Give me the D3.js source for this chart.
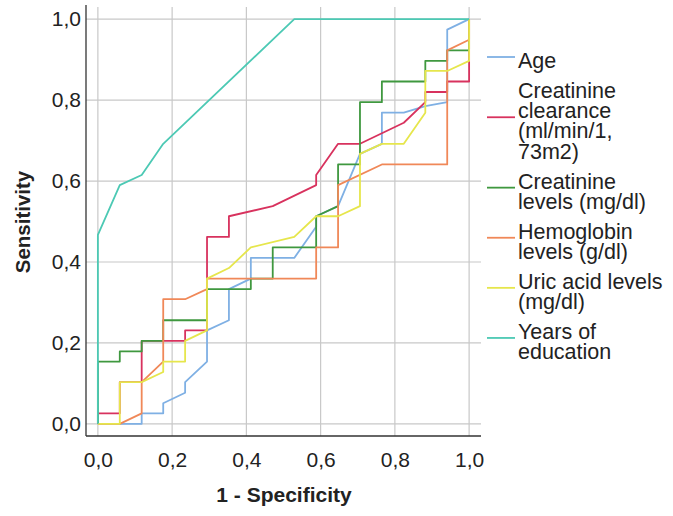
<!DOCTYPE html>
<html>
<head>
<meta charset="utf-8">
<script src="https://cdn.jsdelivr.net/npm/d3@7"></script>
<style>
  body { margin: 0; background: #fff; }
</style>
</head>
<body>
<div id="roc-chart"></div>
<script>
// ROC curves, points are [1 - specificity, sensitivity]
const seriesNames = ["Age", "Creatinine clearance (ml/min/1, 73m2)", "Creatinine levels (mg/dl)",
  "Hemoglobin levels (g/dl)", "Uric acid levels (mg/dl)", "Years of education"];

const legendLines = [
  ["Age"],
  ["Creatinine", "clearance", "(ml/min/1,", "73m2)"],
  ["Creatinine", "levels (mg/dl)"],
  ["Hemoglobin", "levels (g/dl)"],
  ["Uric acid levels", "(mg/dl)"],
  ["Years of", "education"]
];

const age = [[0,0],[0.118,0],[0.118,0.026],[0.176,0.026],[0.176,0.051],[0.235,0.077],[0.235,0.103],
  [0.294,0.154],[0.294,0.231],[0.353,0.256],[0.353,0.333],[0.412,0.359],[0.412,0.41],[0.529,0.41],
  [0.588,0.487],[0.588,0.513],[0.647,0.538],[0.706,0.667],[0.765,0.692],[0.765,0.769],[0.824,0.769],
  [0.882,0.785],[0.941,0.795],[0.941,0.974],[1,1]];

const creatClearance = [[0,0],[0,0.026],[0.059,0.026],[0.059,0.103],[0.118,0.103],[0.118,0.205],
  [0.235,0.205],[0.235,0.231],[0.294,0.231],[0.294,0.462],[0.353,0.462],[0.353,0.513],[0.471,0.538],
  [0.588,0.59],[0.588,0.615],[0.647,0.692],[0.706,0.692],[0.765,0.718],[0.824,0.744],[0.882,0.795],
  [0.882,0.82],[0.941,0.82],[0.941,0.846],[1,0.846],[1,1]];

const creatLevels = [[0,0],[0,0.154],[0.059,0.154],[0.059,0.179],[0.118,0.179],[0.118,0.205],
  [0.176,0.205],[0.176,0.256],[0.294,0.256],[0.294,0.333],[0.412,0.333],[0.412,0.359],[0.471,0.359],
  [0.471,0.436],[0.588,0.436],[0.588,0.513],[0.647,0.538],[0.647,0.641],[0.706,0.641],[0.706,0.795],
  [0.765,0.795],[0.765,0.846],[0.882,0.846],[0.882,0.897],[0.941,0.897],[0.941,0.923],[1,0.923],[1,1]];

const hemoglobin = [[0,0],[0.059,0],[0.118,0.026],[0.118,0.103],[0.176,0.154],[0.176,0.308],
  [0.235,0.308],[0.294,0.333],[0.294,0.359],[0.588,0.359],[0.588,0.436],[0.647,0.436],[0.647,0.59],
  [0.765,0.641],[0.941,0.641],[0.941,0.923],[1,0.949],[1,1]];

const uricAcid = [[0,0],[0.059,0],[0.059,0.103],[0.118,0.103],[0.176,0.128],[0.176,0.154],
  [0.235,0.154],[0.235,0.205],[0.294,0.231],[0.294,0.359],[0.353,0.385],[0.412,0.436],[0.529,0.462],
  [0.588,0.513],[0.647,0.513],[0.706,0.538],[0.706,0.667],[0.765,0.692],[0.824,0.692],[0.882,0.769],
  [0.882,0.872],[0.941,0.872],[1,0.897],[1,1]];

const education = [[0,0],[0,0.467],[0.059,0.59],[0.118,0.615],[0.176,0.692],[0.529,1],[1,1]];

const tickValues = [0, 0.2, 0.4, 0.6, 0.8, 1.0];

const colors = ["#7fb0e4", "#d8325e", "#3f983f", "#f08858", "#e6e64c", "#4cc9b4"];

(() => {
  const width = 673, height = 516;
  const svg = d3.select("#roc-chart")
    .append("svg")
    .attr("width", width)
    .attr("height", height)
    .style("font-family", "Arial, 'Liberation Sans', sans-serif");

  const left = 86, right = 481, top = 5, bottom = 436;

  const x = d3.scaleLinear().domain([-0.032, 1.032]).range([left, right]);
  const y = d3.scaleLinear().domain([-0.03, 1.035]).range([bottom, top]);
  const fmt = d => d3.format(".1f")(d).replace(".", ",");

  // grid
  svg.append("g").selectAll("line")
    .data(tickValues)
    .join("line")
    .attr("x1", left).attr("x2", right)
    .attr("y1", d => y(d)).attr("y2", d => y(d))
    .attr("stroke", "#c8c8c8").attr("stroke-width", 1.2);
  svg.append("g").selectAll("line")
    .data(tickValues)
    .join("line")
    .attr("x1", d => x(d)).attr("x2", d => x(d))
    .attr("y1", top + 2).attr("y2", bottom)
    .attr("stroke", "#c8c8c8").attr("stroke-width", 1.2);

  // axes
  const xAxis = svg.append("g")
    .attr("transform", `translate(0,${bottom})`)
    .call(d3.axisBottom(x).tickValues(tickValues).tickFormat(fmt).tickSize(0).tickPadding(16));
  const yAxis = svg.append("g")
    .attr("transform", `translate(${left},0)`)
    .call(d3.axisLeft(y).tickValues(tickValues).tickFormat(fmt).tickSize(0).tickPadding(5));
  [xAxis, yAxis].forEach(a => {
    a.select(".domain").attr("stroke", "#333").attr("stroke-width", 1.3);
    a.selectAll("text")
      .style("font-family", "Arial, 'Liberation Sans', sans-serif")
      .style("font-size", "21px")
      .attr("fill", "#222");
  });
  xAxis.select(".domain").attr("d", `M${left},0H${right}`);
  yAxis.select(".domain").attr("d", `M0,${top}V${bottom}`);

  svg.append("text")
    .attr("x", 284).attr("y", 502)
    .attr("text-anchor", "middle")
    .style("font-size", "21px").style("font-weight", "bold")
    .attr("fill", "#222")
    .text("1 - Specificity");
  svg.append("text")
    .attr("transform", "translate(30,222) rotate(-90)")
    .attr("text-anchor", "middle")
    .style("font-size", "20.5px").style("font-weight", "bold")
    .attr("fill", "#222")
    .text("Sensitivity");

  // curves
  const allSeries = [age, creatClearance, creatLevels, hemoglobin, uricAcid, education];
  const line = d3.line().x(d => x(d[0])).y(d => y(d[1]));
  svg.append("g").selectAll("path")
    .data(allSeries)
    .join("path")
    .attr("d", line)
    .attr("fill", "none")
    .attr("stroke", (d, i) => colors[i])
    .attr("stroke-width", 1.8)
    .attr("stroke-linejoin", "round");

  // legend: one text per entry, wrapped lines as tspans
  const lineH = 20.3, gap = 9.5;
  let base = 68;
  const legend = svg.append("g");
  legendLines.forEach((lines, i) => {
    const first = base, last = base + (lines.length - 1) * lineH;
    const g = legend.append("g");
    g.append("line")
      .attr("x1", 487).attr("x2", 515)
      .attr("y1", (first + last) / 2 - 11).attr("y2", (first + last) / 2 - 11)
      .attr("stroke", colors[i]).attr("stroke-width", 1.8);
    g.append("text")
      .attr("x", 518)
      .attr("y", first)
      .style("font-size", "21.5px")
      .attr("fill", "#222")
      .selectAll("tspan")
      .data(lines)
      .join("tspan")
      .attr("x", 518)
      .attr("y", (d, j) => first + j * lineH)
      .text(d => d);
    g.append("title").text(seriesNames[i]);
    base = last + lineH + gap;
  });
})();
</script>
</body>
</html>
